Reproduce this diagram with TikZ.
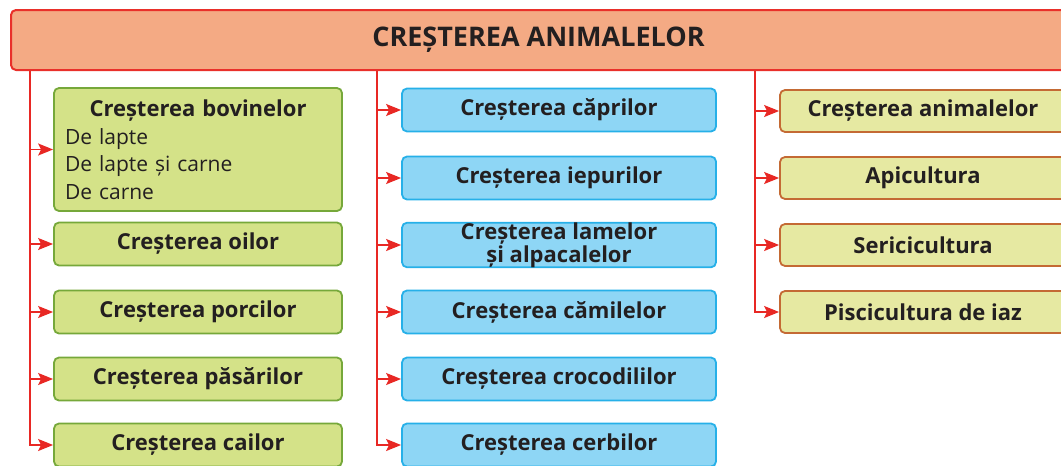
\documentclass[tikz,border=0pt]{standalone}
\usepackage{fontspec}
\setmainfont{Open Sans}
\usepackage{xcolor}
\usetikzlibrary{arrows.meta, positioning}

\definecolor{titlufill}{RGB}{244,170,132}
\definecolor{titlubord}{RGB}{233,48,42}
\definecolor{verdefill}{RGB}{212,226,136}
\definecolor{verdebord}{RGB}{118,168,58}
\definecolor{albfill}{RGB}{142,214,245}
\definecolor{albbord}{RGB}{38,176,232}
\definecolor{galbfill}{RGB}{230,233,162}
\definecolor{galbbord}{RGB}{196,106,52}
\definecolor{sageata}{RGB}{232,40,36}
\definecolor{textnegru}{RGB}{35,31,32}

\begin{document}
\begin{tikzpicture}[x=1pt, y=-1pt, >={Stealth[length=15pt,width=12pt,inset=3pt]},
    cutie/.style={draw, rounded corners=5pt, line width=1.8pt, inner sep=0pt,
        text=textnegru, align=center, font=\fontsize{22}{26}\selectfont\bfseries},
    verde/.style={cutie, fill=verdefill, draw=verdebord, minimum width=288pt, minimum height=43pt},
    albastru/.style={cutie, fill=albfill, draw=albbord, minimum width=314pt, minimum height=43pt},
    galben/.style={cutie, fill=galbfill, draw=galbbord, minimum width=286pt, minimum height=42pt},
    legatura/.style={->, draw=sageata, line width=1.7pt}]
    \useasboundingbox (0,0) rectangle (1061,466);
    \clip (0,0) rectangle (1061,466);

    % Titlu
    \node[cutie, fill=titlufill, draw=titlubord, line width=2pt, minimum width=1055pt,
        minimum height=60pt, font=\fontsize{27}{30}\selectfont\bfseries] (titlu) at (538.5,40) {CREȘTEREA ANIMALELOR};

    % Coloana stanga
    \node[verde, text width=266pt, align=left, minimum height=123pt,
        font=\fontsize{21}{27.5}\selectfont] (bovine) at (198,149.5)
        {\hfill{\fontsize{22}{27.5}\selectfont\bfseries Creșterea bovinelor}\hfill\null\\De lapte\\De lapte și carne\\De carne};
    \node[verde] (oi) at (198,244) {Creșterea oilor};
    \node[verde] (porci) at (198,312) {Creșterea porcilor};
    \node[verde] (pasari) at (198,379) {Creșterea păsărilor};
    \node[verde] (cai) at (198,445) {Creșterea cailor};

    % Coloana din mijloc
    \node[albastru] (capre) at (559,110) {Creșterea căprilor};
    \node[albastru] (iepuri) at (559,178) {Creșterea iepurilor};
    \node[albastru, font=\fontsize{22}{20}\selectfont\bfseries] (lame) at (559,245) {Creșterea lamelor\\și alpacalelor};
    \node[albastru] (camile) at (559,312) {Creșterea cămilelor};
    \node[albastru] (crocodili) at (559,379) {Creșterea crocodililor};
    \node[albastru] (cerbi) at (559,445) {Creșterea cerbilor};

    % Coloana dreapta
    \node[galben] (animale) at (923,111) {Creșterea animalelor};
    \node[galben] (albine) at (923,178) {Apicultura};
    \node[galben] (viermi) at (923,245) {Sericicultura};
    \node[galben] (pesti) at (923,312) {Piscicultura de iaz};

    % Legaturi
    \coordinate (stanga) at (30,0);
    \coordinate (mijloc) at (377,0);
    \coordinate (dreapta) at (755,0);
    \foreach \n in {bovine, oi, porci, pasari, cai}
        \draw[legatura] (titlu.south -| stanga) |- (\n.west);
    \foreach \n in {capre, iepuri, lame, camile, crocodili, cerbi}
        \draw[legatura] (titlu.south -| mijloc) |- (\n.west);
    \foreach \n in {animale, albine, viermi, pesti}
        \draw[legatura] (titlu.south -| dreapta) |- (\n.west);
\end{tikzpicture}
\end{document}
